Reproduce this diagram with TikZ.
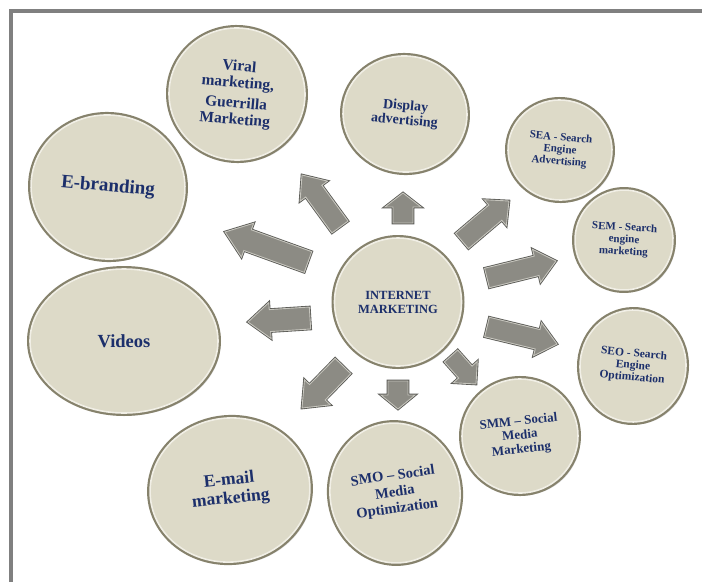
\documentclass[tikz,border=0pt]{standalone}
\usepackage{fontspec}
\setmainfont{Liberation Serif}
\usetikzlibrary{calc,shapes.geometric}
\definecolor{beige}{HTML}{DDDAC8}
\definecolor{rimdark}{HTML}{86826C}
\definecolor{rimlight}{HTML}{F1EFE6}
\definecolor{navy}{HTML}{1C2F6B}
\definecolor{arrfill}{HTML}{8C8B84}
\definecolor{arrdark}{HTML}{5A5A55}
\definecolor{arrlight}{HTML}{C6C5BD}
\definecolor{frame}{HTML}{808080}
\tikzset{
  bubble/.style={ellipse, inner sep=0pt, fill=beige, draw=rimlight, line width=1.6pt,
    preaction={fill=black!16, transform canvas={shift={(2.5pt,-2.5pt)}}},
    preaction={draw=rimdark, line width=6pt}, text=navy, align=center},
  arrowbody/.style={fill=arrfill, draw=arrlight, line width=0.9pt, line join=miter,
    preaction={draw=arrdark, line width=2.6pt}},
  fs/.style n args={2}{font=\bfseries\fontsize{#1}{#2}\selectfont}
}
\newcommand\blockarr[6]{%
  \coordinate (#1t) at #2; \coordinate (#1h) at #3;
  \coordinate (#1b) at ($(#1h)!#6pt!(#1t)$);
  \path[arrowbody] ($(#1t)!#4pt!90:(#1h)$) -- ($(#1b)!#4pt!90:(#1h)$) -- ($(#1b)!#5pt!90:(#1h)$)
    -- (#1h) -- ($(#1b)!#5pt!-90:(#1h)$) -- ($(#1b)!#4pt!-90:(#1h)$) -- ($(#1t)!#4pt!-90:(#1h)$) -- cycle;}
\begin{document}
\begin{tikzpicture}[x=1pt,y=-1pt]
\useasboundingbox (0,0) rectangle (702,582);
\fill[white] (0,0) rectangle (702,582);
% frame
\coordinate (f1) at (9,11); \coordinate (f2) at (702,11);
\coordinate (f3) at (11,9); \coordinate (f4) at (11,582);
\draw[frame, line width=4pt] (f1) -- (f2);
\draw[frame, line width=4pt] (f3) -- (f4);

% bubbles
\node[bubble, minimum width=136pt, minimum height=132pt, rotate=-5, fs={15.5}{16.5}] (viral) at (237,94)
  {Viral\\marketing,\\[4pt]Guerrilla\\Marketing};
\node[bubble, minimum width=154pt, minimum height=144pt, rotate=-5, fs={19}{20}] (ebrand) at (108,187) {E-branding};
\node[bubble, minimum width=124pt, minimum height=116pt, rotate=-5, fs={14}{14.5}] (display) at (405,114) {Display\\advertising};
\node[bubble, minimum width=104pt, minimum height=100pt, rotate=-5, fs={11}{12}] (sea) at (560,150) {SEA - Search\\Engine\\Advertising};
\node[bubble, minimum width=98pt, minimum height=100pt, rotate=-3, fs={11}{12}] (sem) at (624,240) {SEM - Search\\engine\\marketing};
\node[bubble, minimum width=106pt, minimum height=112pt, rotate=-5, fs={11.5}{12}] (seo) at (633,366) {SEO - Search\\Engine\\Optimization};
\node[bubble, minimum width=116pt, minimum height=114pt, rotate=6, fs={13}{14}] (smm) at (520,436) {SMM – Social\\Media\\Marketing};
\node[bubble, minimum width=130pt, minimum height=140pt, rotate=8, fs={14.5}{16.5}] (smo) at (395,493) {SMO – Social\\Media\\Optimization};
\node[bubble, minimum width=160pt, minimum height=144pt, rotate=6, fs={17.5}{18.5}] (email) at (230,490) {E-mail\\marketing};
\node[bubble, minimum width=188pt, minimum height=144pt, fs={18.5}{20}] (videos) at (124,341) {Videos};
\node[bubble, minimum width=127pt, minimum height=128pt, fs={12.5}{14}] (im) at (398,302) {INTERNET\\MARKETING};

% block arrows
\blockarr{a1}{(340,227)}{(302,175)}{10}{17}{20}
\blockarr{a2}{(308,262)}{(225,232)}{11}{18}{24}
\blockarr{a3}{(310,318)}{(248,322)}{11}{18}{22}
\blockarr{a4}{(343,366)}{(302,408)}{11}{18}{22}
\blockarr{a5}{(398,381)}{(398,409)}{10}{17}{14}
\blockarr{a6}{(403,223)}{(403,193)}{10}{18}{14}
\blockarr{a7}{(462,241)}{(509,201)}{10}{17}{18}
\blockarr{a8}{(487,278)}{(556,261)}{10}{17}{20}
\blockarr{a9}{(487,327)}{(557,344)}{10}{17}{20}
\blockarr{a10}{(451,356)}{(476,384)}{9}{16}{16}
\end{tikzpicture}
\end{document}
